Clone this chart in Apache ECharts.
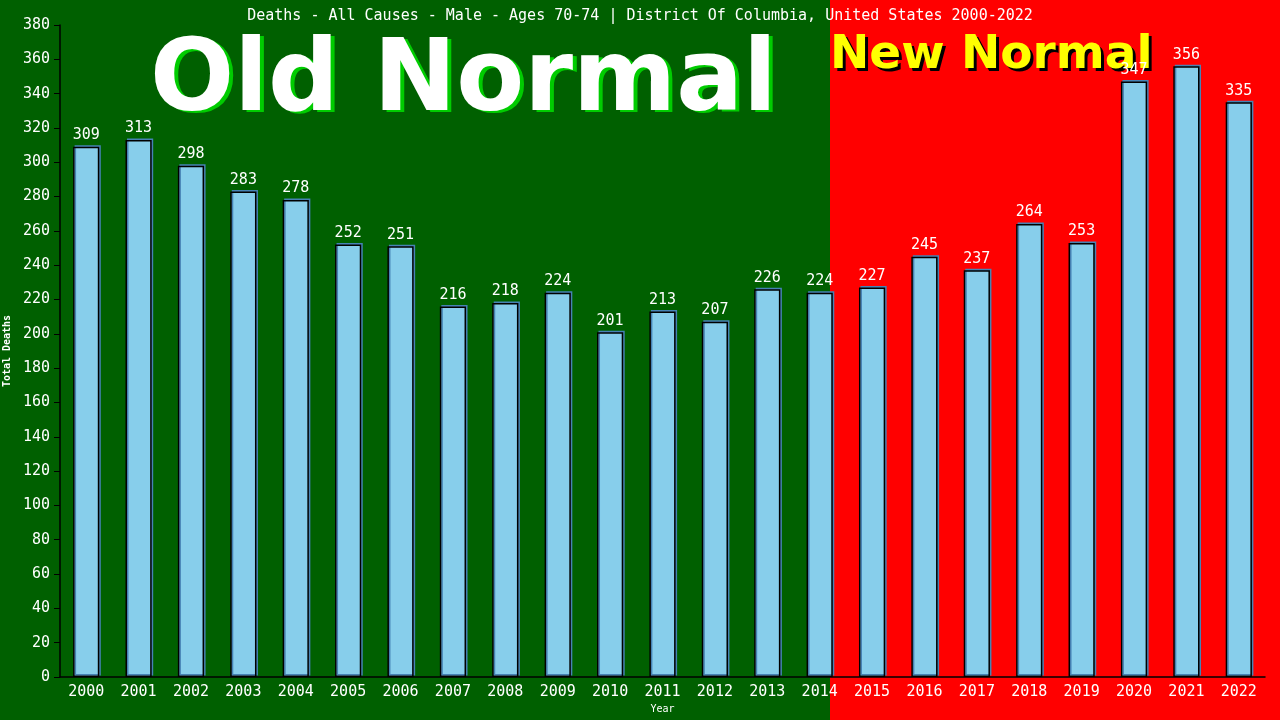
<!DOCTYPE html>
<html lang="en">
<head>
    <meta charset="UTF-8">
    <title>Deaths - Male 70-74</title>
    <script src="https://cdn.jsdelivr.net/npm/echarts@6/dist/echarts.min.js"></script>
</head>
<style>
    html, body {
        margin: 0;
        height: 100%;
    }
</style>
<body>
<div id="main" style="width: 1280px;height:720px"></div>
<script type="text/javascript">
    var years = ['2000', '2001', '2002', '2003', '2004', '2005', '2006', '2007', '2008', '2009', '2010', '2011',
        '2012', '2013', '2014', '2015', '2016', '2017', '2018', '2019', '2020', '2021', '2022'];
    var deaths = [309, 313, 298, 283, 278, 252, 251, 216, 218, 224, 201, 213,
        207, 226, 224, 227, 245, 237, 264, 253, 347, 356, 335];

    var mono = 'DejaVu Sans Mono';
    var oldFont = 'bold 99px "DejaVu Sans"';
    var newFont = 'bold 47px "DejaVu Sans"';
    var myChart = echarts.init(document.getElementById('main'));
    var option = {
        animation: false,
        title: {
            text: 'Deaths - All Causes - Male - Ages 70-74 | District Of Columbia, United States 2000-2022',
            left: 'center',
            top: 4,
            textStyle: {color: '#fff', fontFamily: mono, fontSize: 15, fontWeight: 'normal'}
        },
        graphic: [
            {type: 'rect', z: -10, shape: {x: 0, y: 0, width: 830, height: 720}, style: {fill: '#006000'}},
            {type: 'rect', z: -10, shape: {x: 830, y: 0, width: 450, height: 720}, style: {fill: '#ff0000'}},
            // shadow copies first, then the text; kept under the bar labels
            {type: 'text', z: 0, left: 154, top: 37, style: {text: 'Old Normal', fill: '#00cc00', font: oldFont}},
            {type: 'text', z: 1, left: 150, top: 35, style: {text: 'Old Normal', fill: '#fff', font: oldFont}},
            {type: 'text', z: 0, left: 833, top: 35, style: {text: 'New Normal', fill: '#000', font: newFont}},
            {type: 'text', z: 1, left: 830, top: 32, style: {text: 'New Normal', fill: '#ffff00', font: newFont}}
        ],
        grid: {left: 60, right: 15, top: 25, bottom: 43, outerBoundsMode: 'none'},
        xAxis: {
            type: 'category',
            data: years,
            name: 'Year',
            nameLocation: 'middle',
            nameGap: 27,
            nameTextStyle: {color: '#fff', fontFamily: mono, fontSize: 10},
            axisLine: {lineStyle: {color: '#000', width: 1.5}},
            axisTick: {show: false},
            axisLabel: {color: '#fff', fontFamily: mono, fontSize: 15, margin: 8}
        },
        yAxis: {
            type: 'value',
            min: 0,
            max: 380,
            interval: 20,
            name: 'Total Deaths',
            nameLocation: 'middle',
            nameGap: 41,
            nameTextStyle: {color: '#fff', fontFamily: mono, fontSize: 10, fontWeight: 'bold'},
            axisLine: {show: true, lineStyle: {color: '#000', width: 1.5}},
            axisTick: {show: true, length: 6, lineStyle: {color: '#000'}},
            splitLine: {show: false},
            axisLabel: {color: '#fff', fontFamily: mono, fontSize: 15, margin: 10}
        },
        series: [{
            type: 'bar',
            z: 5,
            data: deaths,
            barWidth: '50%',
            itemStyle: {
                color: '#87ceeb',
                borderColor: '#000',
                borderWidth: 1.5,
                shadowColor: '#4682b4',
                shadowBlur: 0,
                shadowOffsetX: 1.5,
                shadowOffsetY: -1.5
            },
            label: {
                show: true,
                position: 'top',
                distance: 4,
                color: '#fff',
                fontFamily: mono,
                fontSize: 15
            }
        }]
    };
    myChart.setOption(option);
</script>
</body>
</html>
